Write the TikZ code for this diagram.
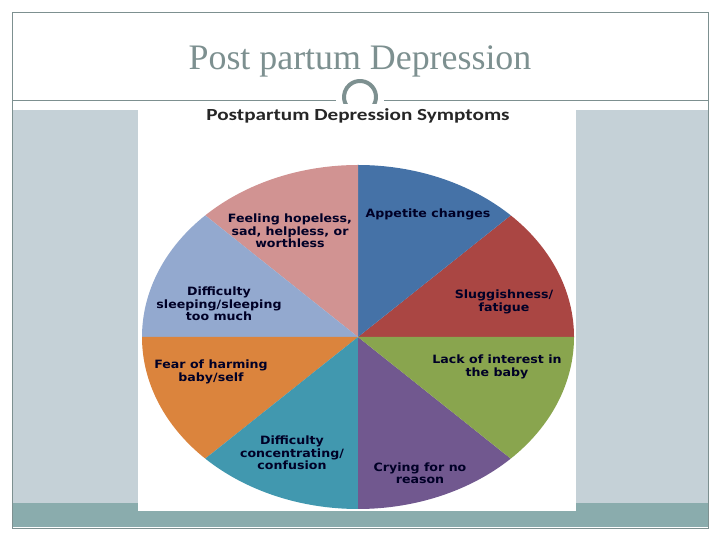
\documentclass[tikz,border=0pt]{standalone}
\usepackage{fontspec}
\setmainfont{Liberation Serif}
\newfontfamily\chartfont[FakeStretch=1.1]{DejaVu Sans}
\newfontfamily\capfont[FakeStretch=1.25]{Carlito}
\definecolor{slidegray}{RGB}{125,144,144}
\definecolor{bandlight}{RGB}{197,209,215}
\definecolor{banddark}{RGB}{138,172,173}
\definecolor{appblue}{RGB}{69,114,167}
\definecolor{slugred}{RGB}{170,70,67}
\definecolor{lackgreen}{RGB}{137,165,78}
\definecolor{cryviolet}{RGB}{113,88,143}
\definecolor{concteal}{RGB}{65,152,175}
\definecolor{fearorange}{RGB}{219,132,61}
\definecolor{sleepblue}{RGB}{147,169,207}
\definecolor{hopepink}{RGB}{209,147,146}
\begin{document}
\begin{tikzpicture}[x=1bp,y=1bp,
    slicelabel/.style={font=\chartfont\bfseries\fontsize{11.5}{12.5}\selectfont,
      text=black!85!blue, align=center, inner sep=0pt}]
        \useasboundingbox (0,0) rectangle (720,540);
        \fill[white] (0,0) rectangle (720,540);
        \fill[bandlight] (12,37) rectangle (708,430);
        \fill[banddark] (12,13) rectangle (708,37);
        \draw[slidegray, line width=0.8] (12,12) rectangle (708,528);
        \draw[slidegray, line width=0.8] (12,440) -- (336,440);
        \draw[slidegray, line width=0.8] (384,440) -- (708,440);
        \draw[slidegray, line width=4] (360,443) ++(-50:16) arc[start angle=-50, end angle=230, radius=16];

        \node[text=slidegray, font=\fontsize{36}{40}\selectfont] (title) at (360,479) {Post partum Depression};

        \fill[white] (138,29) rectangle (576,436);
        \node[font=\capfont\bfseries\fontsize{17}{20}\selectfont, text=black!85] (charttitle) at (358,424) {Postpartum Depression Symptoms};

        \foreach \a/\col in {0/slugred, 45/appblue, 90/hopepink, 135/sleepblue,
                             180/fearorange, 225/concteal, 270/cryviolet, 315/lackgreen}
          \fill[\col] (358,203) -- ++(\a:216 and 172) arc[start angle=\a, end angle=\a+45, x radius=216, y radius=172] -- cycle;

        \node[slicelabel] (appetite) at (428,326) {Appetite changes};
        \node[slicelabel] (fatigue) at (504,238) {Sluggishness/\\fatigue};
        \node[slicelabel] (interest) at (497,173) {Lack of interest in\\the baby};
        \node[slicelabel] (crying) at (420,67) {Crying for no\\reason};
        \node[slicelabel] (confusion) at (292,87) {Difficulty\\concentrating/\\confusion};
        \node[slicelabel] (harming) at (211,168) {Fear of harming\\baby/self};
        \node[slicelabel] (sleeping) at (219,236) {Difficulty\\sleeping/sleeping\\too much};
        \node[slicelabel] (hopeless) at (290,309) {Feeling hopeless,\\sad, helpless, or\\worthless};
\end{tikzpicture}
\end{document}
